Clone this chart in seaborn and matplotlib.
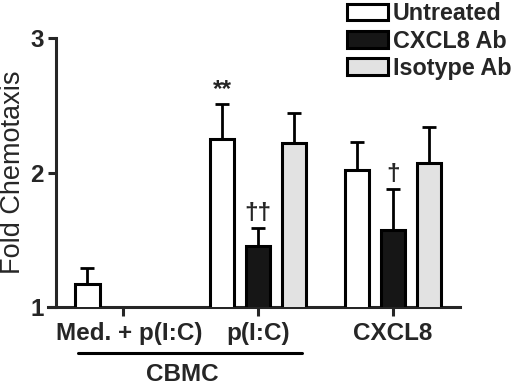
import numpy as np
import pandas as pd
import matplotlib
matplotlib.use("Agg")
import matplotlib.pyplot as plt
import matplotlib.transforms as mtransforms
import seaborn as sns
from matplotlib.patches import Patch

# values
groups = ["Med. + p(I:C)", "p(I:C)", "CXCL8"]
treatments = ["Untreated", "CXCL8 Ab", "Isotype Ab"]
untreated = [1.17, 2.25, 2.02]
cxcl8_ab = [np.nan, 1.45, 1.57]
isotype_ab = [np.nan, 2.22, 2.07]
untreated_err = [0.12, 0.26, 0.21]
cxcl8_ab_err = [np.nan, 0.14, 0.31]
isotype_ab_err = [np.nan, 0.22, 0.27]
sig_marks = [("p(I:C)", "Untreated", "**"), ("p(I:C)", "CXCL8 Ab", "††"), ("CXCL8", "CXCL8 Ab", "†")]
colors = ["white", "#161616", "#e2e2e2"]

rows = []
for t, vals, errs in zip(treatments, [untreated, cxcl8_ab, isotype_ab],
                         [untreated_err, cxcl8_ab_err, isotype_ab_err]):
    for g, v, e in zip(groups, vals, errs):
        if not np.isnan(v):
            rows.append({"group": g, "treatment": t, "fold": v, "err": e})
df = pd.DataFrame(rows)

sns.set_style("ticks")
plt.rcParams['font.family'] = ['Liberation Sans', 'DejaVu Sans']
plt.rcParams['font.weight'] = 'bold'
fs = 17.5
lw = 2.2

fig = plt.figure(figsize=(5.2, 3.85), dpi=100)
ax = fig.add_axes([48 / 520, 78 / 385, 412 / 520, 269 / 385])

sns.barplot(data=df, x="group", y="fold", hue="treatment", order=groups, hue_order=treatments,
            palette=colors, edgecolor="black", linewidth=lw, errorbar=None, gap=0.33,
            legend=False, ax=ax, zorder=3)

# error bars and significance marks on top of the bars
for level, cont in zip(treatments, ax.containers):
    sub = df[df.treatment == level].set_index("group")
    sub = sub.reindex([g for g in groups if g in sub.index])
    for bar, (g, r) in zip(cont, sub.iterrows()):
        xc = bar.get_x() + bar.get_width() / 2
        ax.errorbar(xc, r.fold, yerr=[[0], [r.err]], fmt="none", ecolor="black",
                    elinewidth=2, capsize=5.2, capthick=2, zorder=2, clip_on=False)
        for mg, mt, txt in sig_marks:
            if mg == g and mt == level:
                ax.annotate(txt, (xc, r.fold + r.err), xytext=(0, 2), textcoords="offset points",
                            ha="center", va="bottom", fontsize=fs, fontweight="bold")

ax.set_xlim(-0.56, 2.5)
ax.set_ylim(1, 3)
ax.set_yticks([1, 2, 3])
ax.spines['left'].set_position(('data', -0.5))
for s in ['top', 'right']:
    ax.spines[s].set_visible(False)
for s in ['left', 'bottom']:
    ax.spines[s].set_linewidth(lw)
ax.tick_params(axis='y', length=6, width=lw, labelsize=fs, pad=3)
ax.tick_params(axis='x', length=6.5, width=lw, labelsize=fs, pad=4)
ax.set_xlabel("")
ax.set_ylabel("Fold Chemotaxis", fontsize=19.5, fontweight="normal", labelpad=3)

# first tick label sits a little right of its tick in the original
first = ax.get_xticklabels()[0]
first.set_transform(first.get_transform() + mtransforms.ScaledTranslation(6 / 100, 0, fig.dpi_scale_trans))

# CBMC bracket under the first two groups
trans = ax.get_xaxis_transform()
ax.plot([-0.34, 1.33], [-0.171, -0.171], color="black", lw=lw, transform=trans, clip_on=False)
ax.text(0.44, -0.25, "CBMC", transform=trans, ha="center", va="center", fontsize=fs, fontweight="bold")

handles = [Patch(facecolor=c, edgecolor="black", linewidth=lw) for c in colors]
ax.legend(handles, treatments, loc="upper left", bbox_to_anchor=(345 / 520, 1.0),
          bbox_transform=fig.transFigure, frameon=False, fontsize=16.8, borderpad=0.1,
          borderaxespad=0, handlelength=1.75, handleheight=0.72, handletextpad=0.2,
          labelspacing=0.18)

fig.savefig("out.png", dpi=100)
